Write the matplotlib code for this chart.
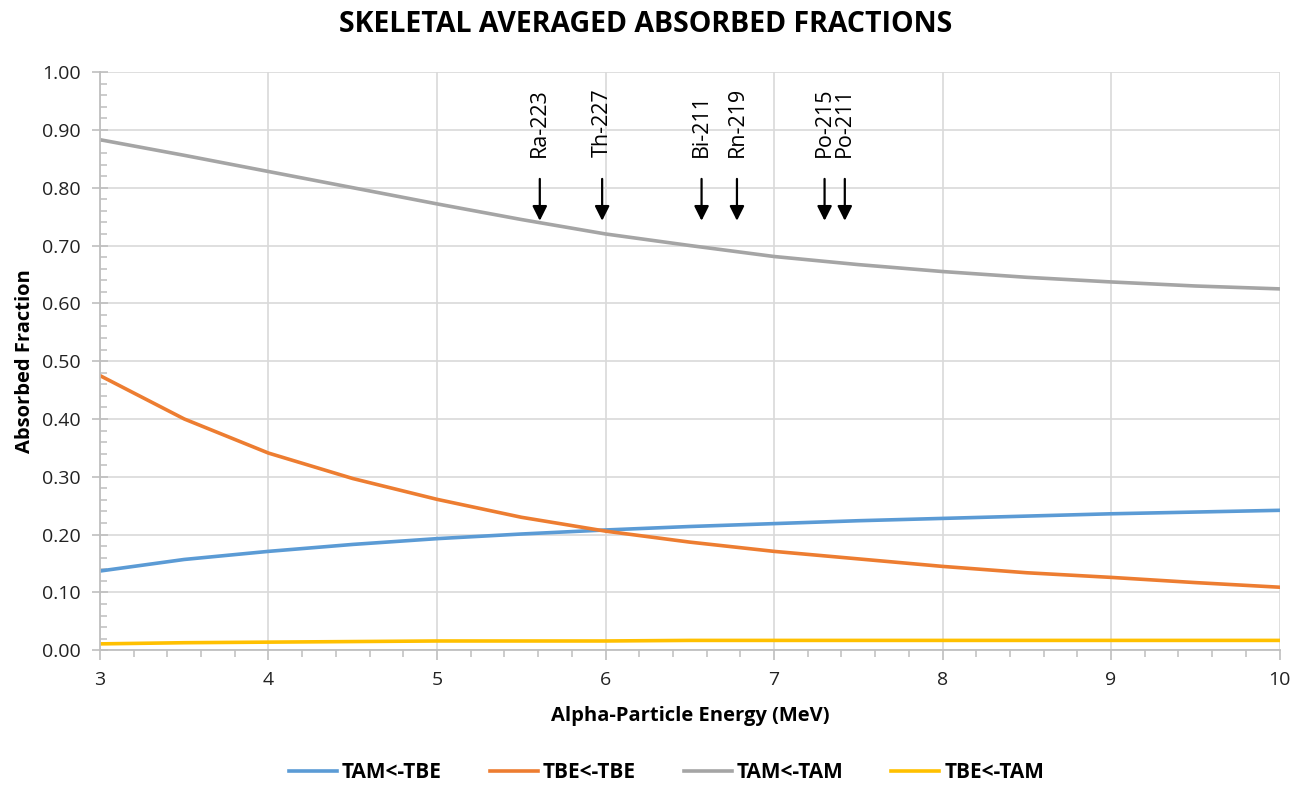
import numpy as np
import matplotlib.pyplot as plt
from matplotlib.ticker import MultipleLocator, FormatStrFormatter

# energie (MeV)
energy = [3.0, 3.5, 4.0, 4.5, 5.0, 5.5, 6.0, 6.5, 7.0, 7.5, 8.0, 8.5, 9.0, 9.5, 10.0]

tam_tbe = [0.137, 0.157, 0.171, 0.183, 0.193, 0.201, 0.208, 0.214, 0.219, 0.224, 0.228, 0.232, 0.236, 0.239, 0.242]
tbe_tbe = [0.475, 0.400, 0.341, 0.297, 0.261, 0.230, 0.206, 0.187, 0.171, 0.158, 0.145, 0.134, 0.126, 0.117, 0.109]
tam_tam = [0.883, 0.856, 0.828, 0.800, 0.772, 0.745, 0.720, 0.700, 0.681, 0.667, 0.655, 0.645, 0.637, 0.630, 0.625]
tbe_tam = [0.011, 0.013, 0.014, 0.015, 0.016, 0.016, 0.016, 0.017, 0.017, 0.017, 0.017, 0.017, 0.017, 0.017, 0.017]

# nuklidy i ich energie alfa
nuclides = ['Ra-223', 'Th-227', 'Bi-211', 'Rn-219', 'Po-215', 'Po-211']
nuclide_energy = [5.61, 5.98, 6.57, 6.78, 7.30, 7.42]

plt.rcParams['font.family'] = ['Open Sans', 'DejaVu Sans']

fig = plt.figure(figsize=(13.07, 7.92), dpi=100)
ax = fig.add_axes([0.0765, 0.179, 0.9025, 0.730])

ax.plot(energy, tam_tbe, color='#5b9bd5', lw=2.6, label='TAM<-TBE')
ax.plot(energy, tbe_tbe, color='#ed7d31', lw=2.6, label='TBE<-TBE')
ax.plot(energy, tam_tam, color='#a5a5a5', lw=2.6, label='TAM<-TAM')
ax.plot(energy, tbe_tam, color='#ffc000', lw=2.6, label='TBE<-TAM')

# strzałki z opisami
for name, e in zip(nuclides, nuclide_energy):
    ax.annotate('', xy=(e, 0.738), xytext=(e, 0.820),
                arrowprops=dict(arrowstyle='-|>', color='black', lw=1.6, mutation_scale=22))
    ax.text(e, 0.853, name, rotation=90, ha='center', va='bottom', fontsize=15.5)

ax.set_xlim(3, 10)
ax.set_ylim(0, 1.0)
ax.xaxis.set_major_locator(MultipleLocator(1))
ax.xaxis.set_minor_locator(MultipleLocator(0.2))
ax.yaxis.set_major_locator(MultipleLocator(0.1))
ax.yaxis.set_minor_locator(MultipleLocator(0.02))
ax.yaxis.set_major_formatter(FormatStrFormatter('%.2f'))

ax.grid(True, which='major', color='#d9d9d9', lw=1.2)
ax.set_axisbelow(True)
for s in ['top', 'right']:
    ax.spines[s].set_visible(False)
for s in ['left', 'bottom']:
    ax.spines[s].set_color('#bfbfbf')
    ax.spines[s].set_linewidth(1.3)

ax.tick_params(axis='both', which='major', labelsize=14, colors='#bfbfbf', labelcolor='#222222', width=1.2)
ax.tick_params(axis='y', which='major', direction='inout', length=12, pad=8)
ax.tick_params(axis='y', which='minor', direction='in', length=5, colors='#bfbfbf', width=1.1)
ax.tick_params(axis='x', which='major', direction='out', length=7, pad=8)
ax.tick_params(axis='x', which='minor', direction='out', length=5, colors='#bfbfbf', width=1.1)

ax.set_xlabel('Alpha-Particle Energy (MeV)', fontsize=14.5, fontweight='bold', labelpad=12)
ax.set_ylabel('Absorbed Fraction', fontsize=14.5, fontweight='bold', labelpad=5)
fig.suptitle('SKELETAL AVERAGED ABSORBED FRACTIONS', fontsize=20.5, fontweight='bold', x=0.494, y=0.988)

leg = fig.legend(loc='center', bbox_to_anchor=(0.51, 0.024), ncol=4, frameon=False,
                 prop={'weight': 'bold', 'size': 15},
                 handlelength=2.3, columnspacing=2.3, handletextpad=0.25)

fig.savefig('out.png', dpi=100)
